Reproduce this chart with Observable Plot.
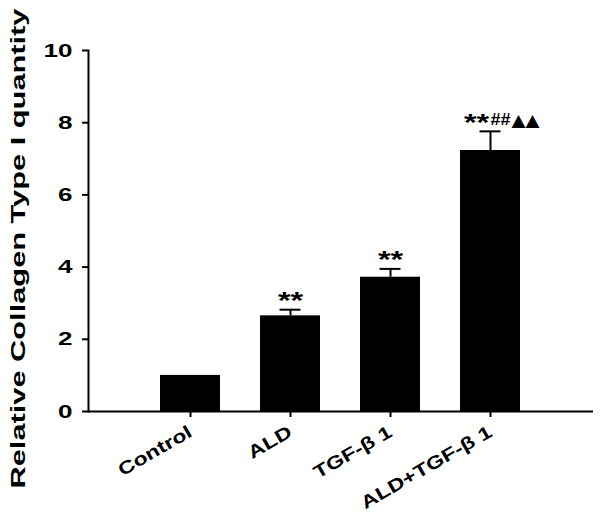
<!DOCTYPE html>
<html><head><meta charset="utf-8">
<script src="https://cdn.jsdelivr.net/npm/d3@7"></script>
<script src="https://cdn.jsdelivr.net/npm/@observablehq/plot@0.6"></script>
<style>body{margin:0;background:#fff} svg{font-family:"Liberation Sans",Arial,sans-serif}</style>
</head><body><div id="chart"></div>
<script>
const groups = ["Control", "ALD", "TGF-β 1", "ALD+TGF-β 1"];
const means = [1.0, 2.65, 3.72, 7.23];
const errors = [0, 0.17, 0.23, 0.53];
const stars = ["", "**", "**", "**"];
const hashMarks = ["", "", "", "##"];
const triMarks = ["", "", "", "▲▲"];
const yTicks = [0, 2, 4, 6, 8, 10];
const yLabel = "Relative Collagen Type I quantity";

const data = groups.map((g, i) => ({group: g, mean: means[i], err: errors[i], hi: means[i] + errors[i], star: stars[i], hash: hashMarks[i], tri: triMarks[i]}));
const withErr = data.filter(d => d.err > 0);

const chart = Plot.plot({
  width: 600, height: 517,
  marginLeft: 88, marginRight: 7, marginTop: 50, marginBottom: 106,
  style: {fontFamily: "'Liberation Sans', Arial, sans-serif", background: "#fff", color: "#000"},
  x: {domain: groups, paddingInner: 0.396, paddingOuter: 0.70, label: null},
  y: {domain: [0, 10], label: null},
  marks: [
    Plot.barY(data, {x: "group", y: "mean", fill: "#000"}),
    Plot.ruleX(withErr, {x: "group", y1: "mean", y2: "hi", stroke: "#000", strokeWidth: 2}),
    Plot.tickY(withErr, {x: "group", y: "hi", stroke: "#000", strokeWidth: 2, inset: 19.5}),
    Plot.text(data.filter(d => d.star && !d.hash), {x: "group", y: "hi", text: "star", lineAnchor: "bottom", dy: -1, fontSize: 24, fontWeight: "bold", ariaDescription: "stars"}),
    Plot.text(data.filter(d => d.star && d.hash), {x: "group", y: "hi", text: "star", lineAnchor: "bottom", dy: 0, dx: -14, fontSize: 24, fontWeight: "bold", ariaDescription: "stars"}),
    Plot.text(data.filter(d => d.hash), {x: "group", y: "hi", text: "hash", lineAnchor: "bottom", dy: -6, dx: 0, textAnchor: "start", fontSize: 17, fontWeight: "bold", ariaDescription: "hash"}),
    Plot.text(data.filter(d => d.tri), {x: "group", y: "hi", text: "tri", lineAnchor: "bottom", dy: -5, dx: 21, textAnchor: "start", fontSize: 17, fontFamily: "DejaVu Sans", ariaDescription: "tri"}),
    Plot.frame({anchor: "left", strokeWidth: 2}),
    Plot.ruleY([0], {strokeWidth: 2}),
    Plot.axisY({ticks: yTicks, tickSize: 6, tickPadding: 10, fontSize: 19, fontWeight: "bold", strokeWidth: 2, label: null}),
    Plot.axisX({tickSize: 6, tickPadding: 13, tickRotate: -30, fontSize: 18, fontWeight: "bold", strokeWidth: 2, label: null}),
    Plot.text([yLabel], {frameAnchor: "bottom-left", rotate: -90, dx: -64, dy: 77, textAnchor: "start", lineAnchor: "bottom", fontSize: 20, fontWeight: "bold", ariaDescription: "ylabel"})
  ]
});
document.getElementById("chart").appendChild(chart);

function stretch(selector, factor) {
  d3.select(chart).selectAll(selector).each(function() {
    const len = this.getComputedTextLength();
    if (len > 0) {
      this.setAttribute("textLength", len * factor);
      this.setAttribute("lengthAdjust", "spacingAndGlyphs");
    }
  });
}
function fixLength(selector, length) {
  d3.select(chart).selectAll(selector).attr("textLength", length).attr("lengthAdjust", "spacingAndGlyphs");
}
stretch('g[aria-label="y-axis tick label"] text', 1.37);
stretch('g[aria-label="x-axis tick label"] text', 1.28);
stretch('g[aria-description="stars"] text', 1.35);
fixLength('g[aria-description="hash"] text', 20);
fixLength('g[aria-description="tri"] text', 28);
fixLength('g[aria-description="ylabel"] text', 480);
</script>
</body></html>
